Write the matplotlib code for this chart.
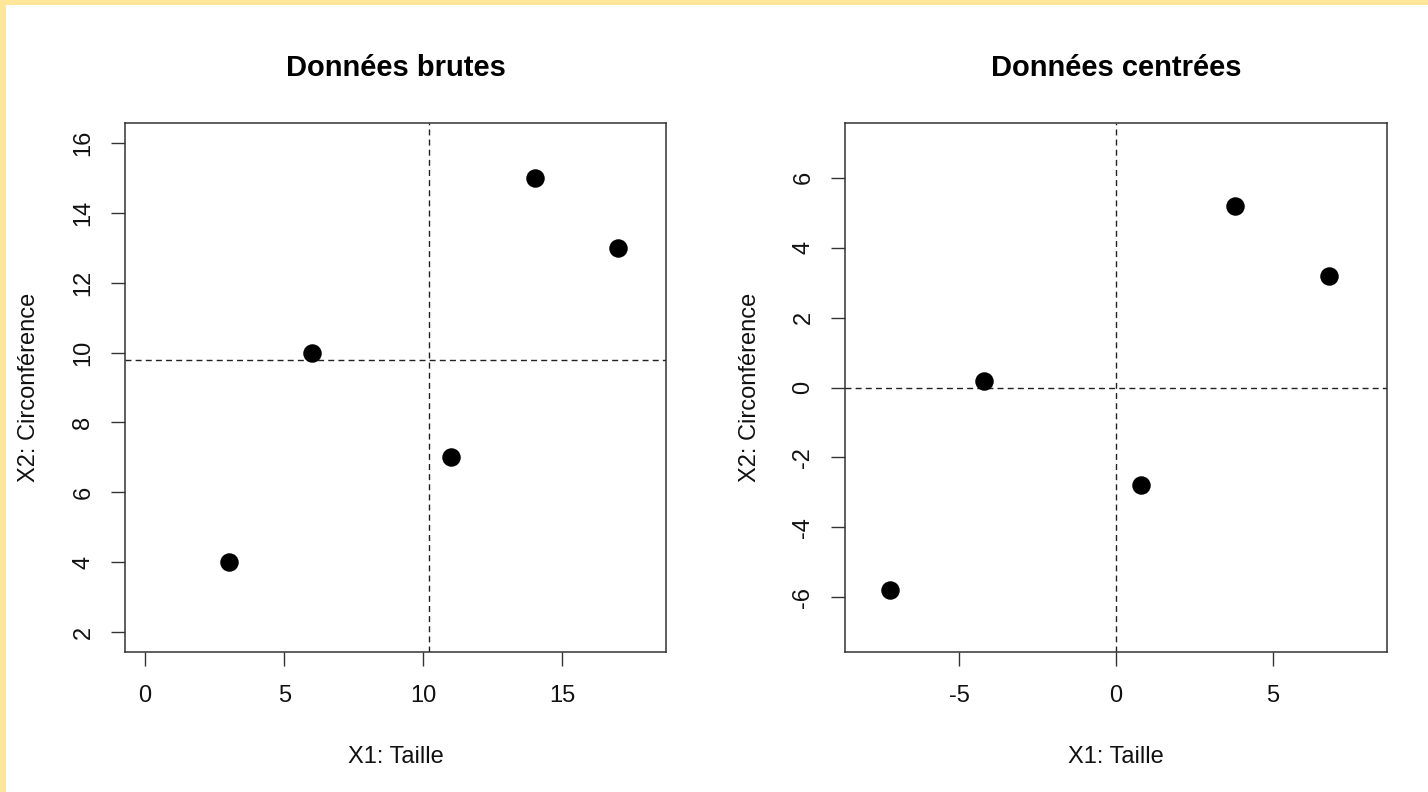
import matplotlib.pyplot as plt
from matplotlib.patches import Rectangle
import numpy as np

plt.rcParams['font.family'] = ['Liberation Sans', 'DejaVu Sans']

# Données
taille = np.array([3, 6, 11, 14, 17])
circonf = np.array([4, 10, 7, 15, 13])
taille_c = taille - taille.mean()
circonf_c = circonf - circonf.mean()

W, H = 1428, 792
fig = plt.figure(figsize=(W / 100, H / 100), dpi=100)
fig.patch.set_facecolor('#ffe699')
fig.add_artist(Rectangle((6 / W, 0), 1, (H - 5) / H, transform=fig.transFigure,
                         facecolor='white', edgecolor='none', zorder=-10))

ax1 = fig.add_axes([125 / W, 140 / H, 541 / W, 529 / H])
ax2 = fig.add_axes([845 / W, 140 / H, 542 / W, 529 / H])


def trace(ax, x, y, titre, xlim, ylim, xticks, yticks):
    ax.plot(x, y, 'o', color='black', markersize=12.3, zorder=3)
    ax.axvline(x.mean(), color='#222222', lw=1, ls=(0, (4.3, 3)))
    ax.axhline(y.mean(), color='#222222', lw=1, ls=(0, (4.3, 3)))
    ax.set_xlim(xlim[0] - 0.04 * (xlim[1] - xlim[0]), xlim[1] + 0.04 * (xlim[1] - xlim[0]))
    ax.set_ylim(ylim[0] - 0.04 * (ylim[1] - ylim[0]), ylim[1] + 0.04 * (ylim[1] - ylim[0]))
    ax.set_xticks(xticks)
    ax.set_yticks(yticks)
    ax.set_xticklabels([str(t) for t in xticks])
    ax.set_yticklabels([str(t) for t in yticks], rotation=90, va='center')
    ax.tick_params(length=10, width=1, color='#333333', labelsize=17, labelcolor='#111111')
    ax.tick_params(axis='x', pad=14)
    ax.tick_params(axis='y', pad=12)
    for s in ax.spines.values():
        s.set_color('#333333')
        s.set_linewidth(1.1)
    ax.set_title(titre, fontsize=21, fontweight='bold', pad=34)
    ax.set_xlabel('X1: Taille', fontsize=17, color='#111111', labelpad=28)
    ax.set_ylabel('X2: Circonférence', fontsize=17, color='#111111', labelpad=23)


trace(ax1, taille, circonf, 'Données brutes', (0, 18), (2, 16),
      [0, 5, 10, 15], [2, 4, 6, 8, 10, 12, 14, 16])
trace(ax2, taille_c, circonf_c, 'Données centrées', (-8, 8), (-7, 7),
      [-5, 0, 5], [-6, -4, -2, 0, 2, 4, 6])

fig.savefig('out.png', dpi=100)
